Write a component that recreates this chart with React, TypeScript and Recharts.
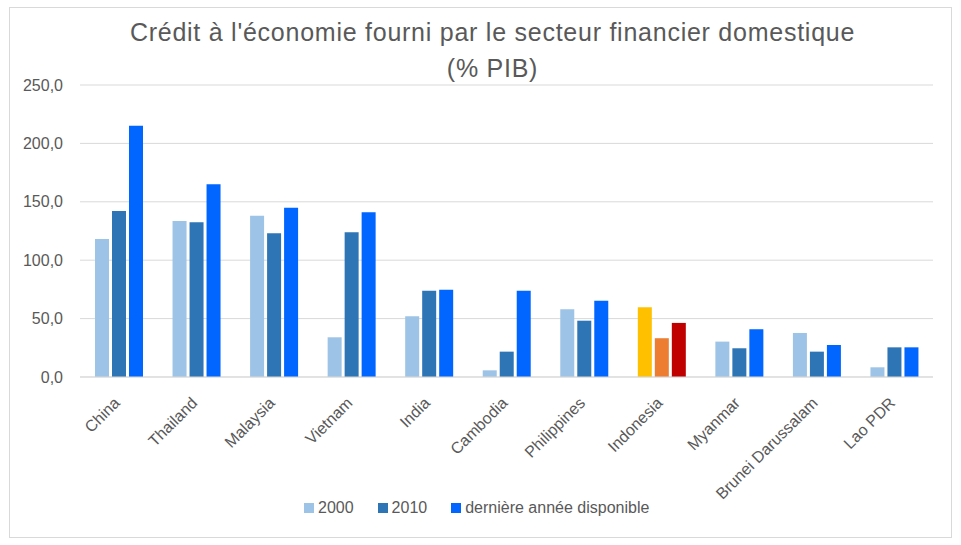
import React from 'react';
import { BarChart, Bar, XAxis, YAxis, CartesianGrid, Cell } from 'recharts';

const categories = ['China', 'Thailand', 'Malaysia', 'Vietnam', 'India', 'Cambodia', 'Philippines', 'Indonesia', 'Myanmar', 'Brunei Darussalam', 'Lao PDR'];
const values2000 = [118.2, 133.6, 138.1, 34.0, 52.0, 5.7, 58.0, 59.7, 30.3, 37.7, 8.3];
const values2010 = [142.1, 132.4, 123.0, 123.9, 73.9, 21.7, 48.2, 33.2, 24.6, 21.7, 25.4];
const valuesLast = [215.2, 165.0, 145.0, 141.0, 74.8, 73.9, 65.3, 46.3, 40.9, 27.4, 25.4];
const yTicks = [0, 50, 100, 150, 200, 250];
const seriesNames = ['2000', '2010', 'dernière année disponible'];
const highlighted = 'Indonesia';

const baseColors = ['#9DC3E6', '#2E75B6', '#0066FF'];
const highlightColors = ['#FFC000', '#ED7D31', '#C00000'];

const data = categories.map((c, i) => ({
  country: c,
  v2000: values2000[i],
  v2010: values2010[i],
  vLast: valuesLast[i],
}));

const FONT = "'Liberation Sans', sans-serif";
const TEXT = '#595959';

const fmt = (v: number) => v.toFixed(1).replace('.', ',');

const XTick = (props: any) => {
  const { x, y, payload } = props;
  return (
    <g transform={`translate(${x + 2},${y + 27})`}>
      <text x={0} y={0} textAnchor="end" transform="rotate(-45)" fill={TEXT} fontSize={16} fontFamily={FONT}>
        {payload.value}
      </text>
    </g>
  );
};

const keys = ['v2000', 'v2010', 'vLast'];

export default function App() {
  return (
    <div style={{ position: 'absolute', left: 0, top: 0, width: 961, height: 545, background: '#fff', fontFamily: FONT }}>
      <div style={{ position: 'absolute', left: 9, top: 7, width: 941, height: 529, border: '1px solid #D9D9D9' }} />
      <div style={{ position: 'absolute', left: 0, top: 14, width: 985, textAlign: 'center', color: TEXT, fontSize: 25, lineHeight: '36px', letterSpacing: 0.75 }}>
        <div>Crédit à l'économie fourni par le secteur financier domestique</div>
        <div>(% PIB)</div>
      </div>
      <BarChart
        width={961}
        height={545}
        data={data}
        margin={{ top: 85, right: 28, bottom: 18, left: 0 }}
        barSize={14}
        barGap={3}
        style={{ position: 'absolute', left: 0, top: 0 }}
      >
        <CartesianGrid vertical={false} stroke="#D9D9D9" strokeWidth={1} />
        <XAxis
          dataKey="country"
          interval={0}
          height={150}
          tickLine={false}
          tickSize={0}
          tickMargin={0}
          axisLine={{ stroke: '#D9D9D9' }}
          tick={<XTick />}
        />
        <YAxis
          width={80}
          domain={[0, 250]}
          ticks={yTicks}
          axisLine={false}
          tickLine={false}
          tickSize={0}
          tickMargin={17}
          tickFormatter={fmt}
          tick={{ fill: TEXT, fontSize: 16, fontFamily: FONT }}
        />
        {keys.map((k, si) => (
          <Bar key={k} dataKey={k} name={seriesNames[si]} fill={baseColors[si]} isAnimationActive={false}>
            {data.map((d) => (
              <Cell key={d.country} fill={d.country === highlighted ? highlightColors[si] : baseColors[si]} />
            ))}
          </Bar>
        ))}
      </BarChart>
      <div style={{ position: 'absolute', left: 304, top: 497, display: 'flex', alignItems: 'center', color: TEXT, fontSize: 16, lineHeight: '22px' }}>
        {seriesNames.map((n, i) => (
          <div key={n} style={{ display: 'flex', alignItems: 'center', marginRight: 24 }}>
            <span style={{ display: 'inline-block', width: 10, height: 10, background: baseColors[i], marginRight: 4 }} />
            <span>{n}</span>
          </div>
        ))}
      </div>
    </div>
  );
}
